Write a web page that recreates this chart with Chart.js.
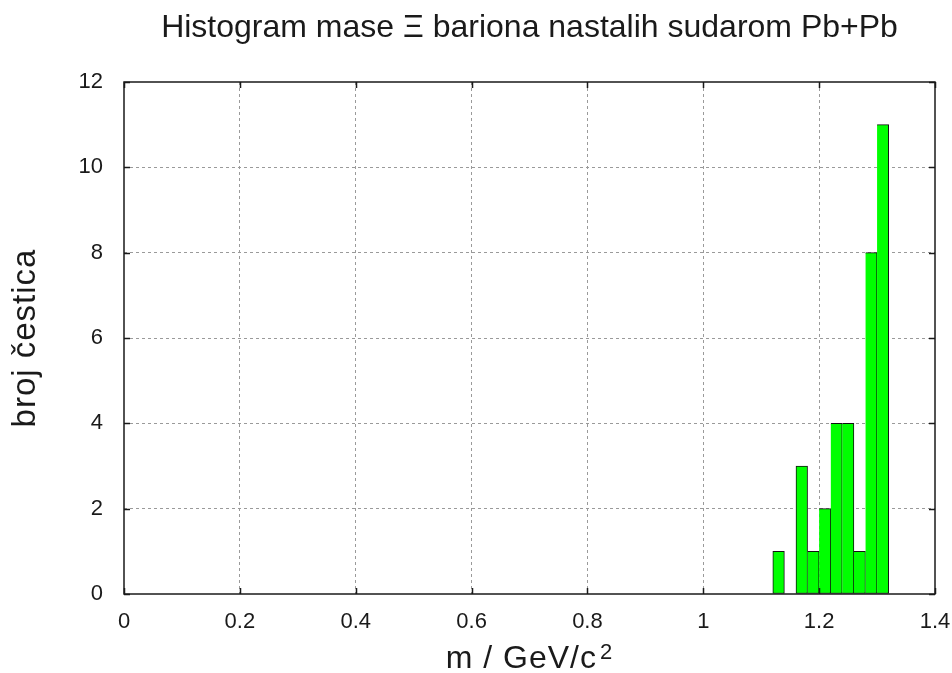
<!DOCTYPE html>
<html>
<head>
<meta charset="utf-8">
<script src="https://cdn.jsdelivr.net/npm/chart.js@4"></script>
<style>
  html, body { margin: 0; padding: 0; background: #fff; }
</style>
</head>
<body>
<canvas class="js-chart" width="952" height="673"></canvas>
<script>
const ctx = document.querySelector(".js-chart").getContext("2d");

// histogram bins (GeV/c^2), width 0.02
const BIN_WIDTH = 0.02;
const binCenters = [1.13, 1.15, 1.17, 1.19, 1.21, 1.23, 1.25, 1.27, 1.29, 1.31];
const counts = [1, 0, 3, 1, 2, 4, 4, 1, 8, 11];

const X_MIN = 0, X_MAX = 1.4, X_STEP = 0.2;
const Y_MIN = 0, Y_MAX = 12, Y_STEP = 2;

const TITLE = "Histogram mase Ξ bariona nastalih sudarom Pb+Pb";
const X_TITLE = "m / GeV/c";
const X_TITLE_SUP = "2";
const Y_TITLE = "broj čestica";

const FONT = "'Liberation Sans', Arial, sans-serif";
const INK = "#1a1a1a";
const TICK_LEN = 6;

// gnuplot-like frame with mirrored inward tics, plus the axis labels
const framePlugin = {
  id: "frame",
  afterDatasetsDraw(chart) {
    const { ctx, chartArea: a, scales } = chart;
    ctx.save();
    ctx.strokeStyle = INK;
    ctx.lineWidth = 1.5;
    ctx.beginPath();
    scales.x.ticks.forEach((t) => {
      const px = Math.round(scales.x.getPixelForValue(t.value)) + 0.5;
      ctx.moveTo(px, a.bottom);
      ctx.lineTo(px, a.bottom - TICK_LEN);
      ctx.moveTo(px, a.top);
      ctx.lineTo(px, a.top + TICK_LEN);
    });
    scales.y.ticks.forEach((t) => {
      const py = Math.round(scales.y.getPixelForValue(t.value)) + 0.5;
      ctx.moveTo(a.left, py);
      ctx.lineTo(a.left + TICK_LEN, py);
      ctx.moveTo(a.right, py);
      ctx.lineTo(a.right - TICK_LEN, py);
    });
    ctx.stroke();
    ctx.strokeRect(a.left, a.top, a.right - a.left, a.bottom - a.top);
    ctx.restore();
  },
  afterDraw(chart) {
    const { ctx, chartArea: a } = chart;
    ctx.save();
    ctx.fillStyle = INK;
    ctx.textBaseline = "alphabetic";

    // x label with superscript
    const mainFont = "32px " + FONT;
    const supFont = "22px " + FONT;
    ctx.letterSpacing = "1px";
    ctx.font = mainFont;
    const mainW = ctx.measureText(X_TITLE).width;
    ctx.font = supFont;
    const supW = ctx.measureText(X_TITLE_SUP).width;
    const startX = (a.left + a.right) / 2 - (mainW + 3 + supW) / 2;
    const baseY = chart.height - 5;
    ctx.textAlign = "left";
    ctx.font = mainFont;
    ctx.fillText(X_TITLE, startX, baseY);
    ctx.font = supFont;
    ctx.fillText(X_TITLE_SUP, startX + mainW + 3, baseY - 9);

    // y label, rotated
    ctx.translate(35, (a.top + a.bottom) / 2);
    ctx.rotate(-Math.PI / 2);
    ctx.textAlign = "center";
    ctx.font = "33px " + FONT;
    ctx.fillText(Y_TITLE, 0, 0);
    ctx.restore();
  },
};

function innerGrid(scaleMin, scaleMax) {
  return (c) => {
    if (!c.tick) return "#9a9a9a";
    return c.tick.value <= scaleMin || c.tick.value >= scaleMax ? "rgba(0,0,0,0)" : "#9a9a9a";
  };
}

const chart = new Chart(ctx, {
  type: "bar",
  data: {
    datasets: [
      {
        label: Y_TITLE,
        data: binCenters.map((x, i) => ({ x, y: counts[i] > 0 ? counts[i] : null })),
        backgroundColor: "#00ff00",
        borderColor: "#111",
        borderSkipped: false,
        borderWidth(c) {
          const prev = c.dataIndex > 0 ? counts[c.dataIndex - 1] : 0;
          return { top: 1, bottom: 1, right: 1, left: prev > 0 ? 0 : 1 };
        },
      },
    ],
  },
  options: {
    responsive: false,
    animation: false,
    layout: { padding: { left: 0, right: 17, top: 0, bottom: 0 } },
    plugins: {
      legend: { display: false },
      tooltip: { enabled: false },
      title: {
        display: true,
        fullSize: false,
        text: TITLE,
        color: INK,
        font: { family: FONT, size: 32, weight: "normal" },
        padding: { top: 9, bottom: 34.6 },
      },
    },
    scales: {
      x: {
        type: "linear",
        min: X_MIN,
        max: X_MAX,
        offset: false,
        afterFit(scale) {
          scale.height = 79;
          // end labels may overhang the frame
          scale.paddingLeft = 0;
          scale.paddingRight = 0;
        },
        ticks: {
          stepSize: X_STEP,
          color: INK,
          padding: 15,
          maxRotation: 0,
          font: { family: FONT, size: 22 },
          callback(value) {
            return String(Number(value.toFixed(1)));
          },
        },
        grid: { color: innerGrid(X_MIN, X_MAX), drawTicks: false, offset: false, lineWidth: 1 },
        border: { display: false, dash: [3, 3] },
      },
      y: {
        min: Y_MIN,
        max: Y_MAX,
        afterFit(scale) {
          scale.width = 124;
        },
        ticks: {
          stepSize: Y_STEP,
          color: INK,
          padding: 21,
          font: { family: FONT, size: 22 },
        },
        grid: { color: innerGrid(Y_MIN, Y_MAX), drawTicks: false, lineWidth: 1 },
        border: { display: false, dash: [3, 3] },
      },
    },
  },
  plugins: [framePlugin],
});

// one bin width in pixels, so bars touch like histogram bins
const xs = chart.scales.x;
chart.data.datasets[0].barThickness = xs.getPixelForValue(BIN_WIDTH) - xs.getPixelForValue(0);
chart.update("none");
</script>
</body>
</html>
